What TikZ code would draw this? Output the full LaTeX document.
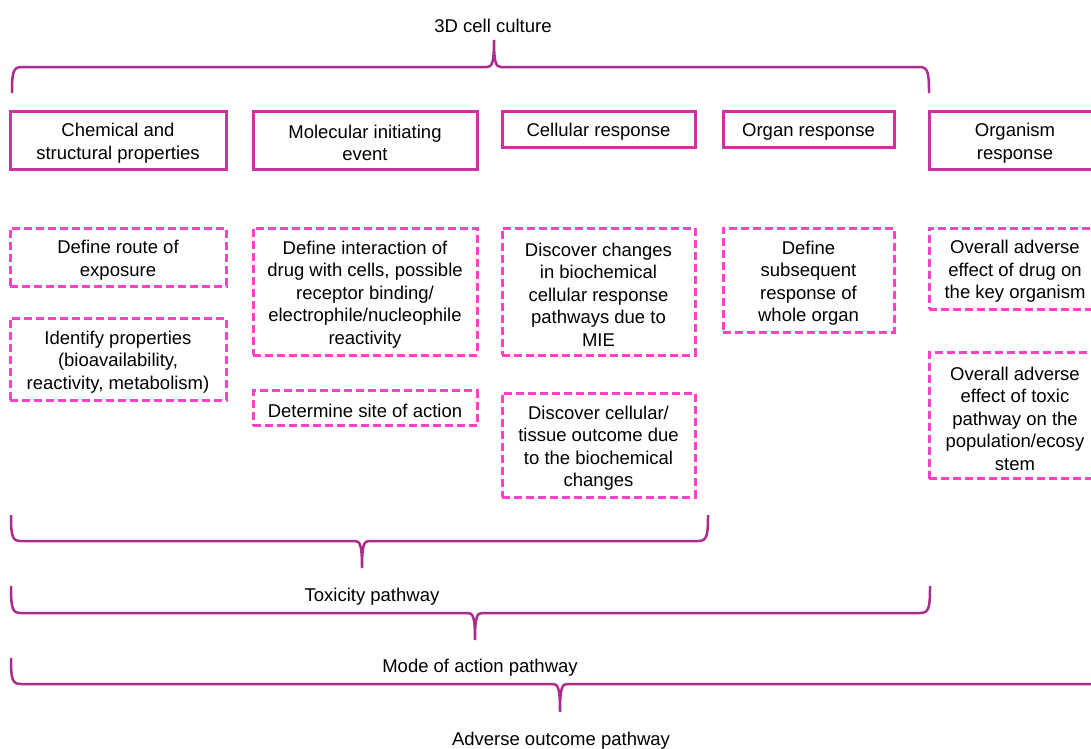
\documentclass[tikz,border=0pt]{standalone}
\usepackage{fontspec}
\setmainfont{Liberation Sans}
\definecolor{boxpink}{RGB}{204,51,160}
\definecolor{dashpink}{RGB}{255,64,200}
\definecolor{bracepurple}{RGB}{172,44,140}
\newcommand{\capline}{\rule{0pt}{19.5pt}}

\begin{document}
\begin{tikzpicture}[x=1pt,y=-1pt,
  font=\fontsize{18.5}{22.5}\selectfont,
  stage/.style={draw=boxpink, line width=3pt, align=center, inner sep=0pt},
  task/.style={draw=dashpink, line width=3pt, dash pattern=on 8pt off 4pt, align=center, inner sep=0pt},
  bracket/.style={draw=bracepurple, line width=2.5pt}]
  \useasboundingbox (0,0) rectangle (1091,748);
  \clip (0,0) rectangle (1091,748);

  % 3D cell culture
  \node (culture) at (493,25.5) {3D cell culture};
  \draw[bracket] (12,93) .. controls (12,72) and (13,67) .. (22,67) -- (487,67)
    .. controls (492,67) and (494,63) .. (494,40)
    .. controls (494,63) and (496,67) .. (501,67) -- (919,67)
    .. controls (928,67) and (929,72) .. (929,93);

  % stages (top row)
  \node[stage, minimum width=216pt, minimum height=58pt] (chem) at (118,140) {\capline Chemical and\\structural properties};
  \node[stage, minimum width=224pt, minimum height=58pt] (mie) at (365,140) {\capline Molecular initiating\\event};
  \node[stage, minimum width=193pt, minimum height=36pt] (cell) at (598.5,129) {\capline Cellular response};
  \node[stage, minimum width=171pt, minimum height=36pt] (organ) at (808.5,129) {\capline Organ response};
  \node[stage, minimum width=172pt, minimum height=58pt] (organism) at (1015,140) {\capline Organism\\response};

  % tasks (dashed)
  \node[task, minimum width=216pt, minimum height=58pt] (route) at (118,257) {\capline Define route of\\exposure};
  \node[task, minimum width=216pt, minimum height=82pt] (props) at (118,359) {\capline Identify properties\\(bioavailability,\\reactivity, metabolism)};
  \node[task, minimum width=224pt, minimum height=127pt] (interact) at (365,291.5) {\capline Define interaction of\\drug with cells, possible\\receptor binding/\\electrophile/nucleophile\\reactivity};
  \node[task, minimum width=224pt, minimum height=35pt] (site) at (365,408) {\capline Determine site of action};
  \node[task, minimum width=193pt, minimum height=127pt] (biochem) at (598.5,291.5) {\capline Discover changes\\in biochemical\\cellular response\\pathways due to\\MIE};
  \node[task, minimum width=193pt, minimum height=104pt] (tissue) at (598.5,445) {\capline Discover cellular/\\tissue outcome due\\to the biochemical\\changes};
  \node[task, minimum width=171pt, minimum height=104pt] (wholeorgan) at (808.5,280) {\capline Define\\subsequent\\response of\\whole organ};
  \node[task, minimum width=172pt, minimum height=81pt] (keyorg) at (1015,268.5) {\capline Overall adverse\\effect of drug on\\the key organism};
  \node[task, minimum width=172pt, minimum height=126pt] (popul) at (1015,415.5) {\capline Overall adverse\\effect of toxic\\pathway on the\\population/ecosy\\stem};

  % Toxicity pathway
  \draw[bracket] (11,515) .. controls (11,536) and (12,541) .. (21,541) -- (355,541)
    .. controls (360,541) and (362,545) .. (362,568)
    .. controls (362,545) and (364,541) .. (369,541) -- (698,541)
    .. controls (707,541) and (708,536) .. (708,515);
  \node (toxpath) at (372,596.5) {Toxicity pathway};

  % Mode of action pathway
  \draw[bracket] (11,586) .. controls (11,608) and (12,613) .. (21,613) -- (468,613)
    .. controls (473,613) and (475,617) .. (475,640)
    .. controls (475,617) and (477,613) .. (482,613) -- (920,613)
    .. controls (929,613) and (930,608) .. (930,586);
  \node (moapath) at (480,667.5) {Mode of action pathway};

  % Adverse outcome pathway
  \draw[bracket] (11,658) .. controls (11,679) and (12,684) .. (21,684) -- (553,684)
    .. controls (558,684) and (560,688) .. (560,712)
    .. controls (560,688) and (562,684) .. (567,684) -- (1100,684);
  \node (aoppath) at (561,740.5) {Adverse outcome pathway};
\end{tikzpicture}
\end{document}
